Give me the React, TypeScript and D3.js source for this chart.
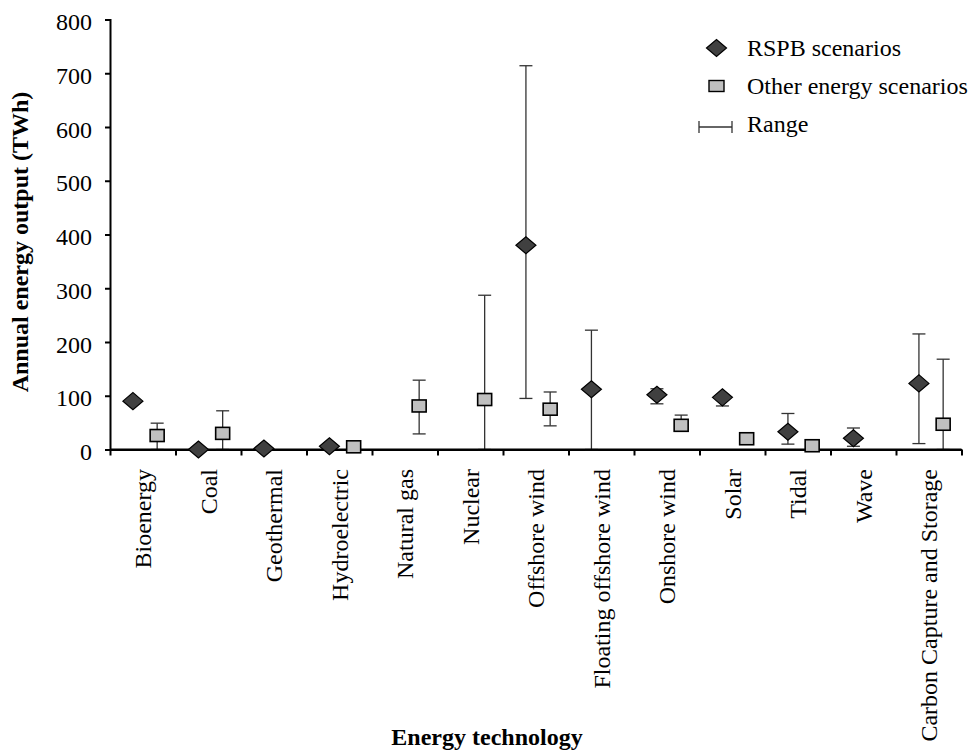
import React, { useEffect, useRef } from "react"
import * as d3 from "d3"

const categories = [
  "Bioenergy",
  "Coal",
  "Geothermal",
  "Hydroelectric",
  "Natural gas",
  "Nuclear",
  "Offshore wind",
  "Floating offshore wind",
  "Onshore wind",
  "Solar",
  "Tidal",
  "Wave",
  "Carbon Capture and Storage",
]

// RSPB scenarios (diamonds)
const rspbValues = [90, 0, 2, 6, null, null, 380, 112, 102, 97, 33, 21, 123]
const rspbLow = [null, null, null, null, null, null, 95, 0, 85, 81, 10, 6, 11]
const rspbHigh = [null, null, null, null, null, null, 714, 222, 113, 100, 67, 40, 215]

// Other energy scenarios (squares)
const otherValues = [26, 30, null, 5, 81, 93, 75, null, 45, 20, 7, null, 47]
const otherLow = [0, 0, null, null, 29, 0, 44, null, 34, null, null, null, 0]
const otherHigh = [49, 72, null, null, 129, 287, 107, null, 64, null, null, null, 168]

const yTicks = [0, 100, 200, 300, 400, 500, 600, 700, 800]

const legendItems = ["RSPB scenarios", "Other energy scenarios", "Range"]

const FONT = "Liberation Serif"
const FS = 24

function render(svgEl: SVGSVGElement) {
  const svg = d3.select(svgEl)
  svg.selectAll("*").remove()

  const left = 110
  const right = 961.5
  const top = 19.5
  const bottom = 449.5

  const x = d3.scaleBand<string>().domain(categories).range([left, right]).paddingInner(0).paddingOuter(0)
  const xIdx = d3.scaleLinear().domain([0, categories.length]).range([left, right])
  const y = d3.scaleLinear().domain([0, 800]).range([bottom, top])
  const bw = x.bandwidth()
  const dx = (c: string) => (x(c) as number) + bw * 0.35
  const sx = (c: string) => (x(c) as number) + bw * 0.72

  const g = svg.append("g").attr("font-family", FONT).style("font-family", FONT)

  // y axis
  const yAxis = g
    .append("g")
    .attr("transform", `translate(${left},0)`)
    .call(d3.axisLeft(y).tickValues(yTicks).tickSize(5).tickPadding(13).tickFormat(d3.format("d")))
  yAxis.attr("font-family", null)
  yAxis.select(".domain").attr("stroke", "#000").attr("stroke-width", 2)
  yAxis.selectAll(".tick line").attr("stroke", "#000").attr("stroke-width", 2)
  yAxis
    .selectAll(".tick text")
    .attr("font-size", FS)
    .attr("fill", "#000")
    .attr("dy", "0.42em")

  // x axis (ticks at category boundaries)
  const xAxis = g
    .append("g")
    .attr("transform", `translate(0,${bottom})`)
    .call(
      d3
        .axisBottom(xIdx)
        .tickValues(d3.range(categories.length + 1))
        .tickSize(6)
        .tickSizeOuter(0)
        .tickFormat(() => "")
    )
  xAxis.attr("font-family", null)
  xAxis.select(".domain").attr("stroke", "#000").attr("stroke-width", 2)
  xAxis.selectAll(".tick line").attr("stroke", "#000").attr("stroke-width", 2)

  // category labels
  g.selectAll(".cat")
    .data(categories)
    .join("text")
    .attr("class", "cat")
    .attr("transform", (d) => `translate(${(x(d) as number) + bw / 2 + 8.5},469) rotate(-90)`)
    .attr("text-anchor", "end")
    .attr("font-size", FS)
    .attr("fill", "#000")
    .text((d) => d)

  // error bars
  const cap = 6.5
  const drawRange = (
    cls: string,
    lows: (number | null)[],
    highs: (number | null)[],
    xpos: (c: string) => number
  ) => {
    const rows = categories
      .map((c, i) => ({ c, lo: lows[i], hi: highs[i] }))
      .filter((d) => d.lo !== null && d.hi !== null) as { c: string; lo: number; hi: number }[]
    const eg = g.append("g").attr("class", cls).attr("stroke", "#333").attr("stroke-width", 1.3)
    eg.selectAll(".v")
      .data(rows)
      .join("line")
      .attr("x1", (d) => xpos(d.c))
      .attr("x2", (d) => xpos(d.c))
      .attr("y1", (d) => y(d.lo))
      .attr("y2", (d) => y(d.hi))
    eg.selectAll(".hi")
      .data(rows)
      .join("line")
      .attr("x1", (d) => xpos(d.c) - cap)
      .attr("x2", (d) => xpos(d.c) + cap)
      .attr("y1", (d) => y(d.hi))
      .attr("y2", (d) => y(d.hi))
    eg.selectAll(".lo")
      .data(rows)
      .join("line")
      .attr("x1", (d) => xpos(d.c) - cap)
      .attr("x2", (d) => xpos(d.c) + cap)
      .attr("y1", (d) => y(d.lo))
      .attr("y2", (d) => y(d.lo))
  }
  drawRange("err-rspb", rspbLow, rspbHigh, dx)
  drawRange("err-other", otherLow, otherHigh, sx)

  // redraw x axis line over bar bottoms
  g.append("line")
    .attr("x1", left)
    .attr("x2", right)
    .attr("y1", bottom)
    .attr("y2", bottom)
    .attr("stroke", "#000")
    .attr("stroke-width", 2)

  const diamond = (cx: number, cy: number, hw: number, hh: number) =>
    `M${cx - hw},${cy}L${cx},${cy - hh}L${cx + hw},${cy}L${cx},${cy + hh}Z`

  // squares
  g.selectAll(".sq")
    .data(categories.map((c, i) => ({ c, v: otherValues[i] })).filter((d) => d.v !== null))
    .join("rect")
    .attr("class", "sq")
    .attr("x", (d) => sx(d.c) - 7)
    .attr("y", (d) => y(d.v as number) - 6)
    .attr("width", 14)
    .attr("height", 12)
    .attr("fill", "#c0c0c0")
    .attr("stroke", "#000")
    .attr("stroke-width", 1.6)

  // diamonds
  g.selectAll(".dm")
    .data(categories.map((c, i) => ({ c, v: rspbValues[i] })).filter((d) => d.v !== null))
    .join("path")
    .attr("class", "dm")
    .attr("d", (d) => diamond(dx(d.c), y(d.v as number), 10, 8.5))
    .attr("fill", "#404040")
    .attr("stroke", "#000")
    .attr("stroke-width", 1.2)

  // legend
  const lg = g.append("g")
  const ly = [48, 86, 124]
  lg.append("path").attr("d", diamond(716.5, ly[0], 10, 8.5)).attr("fill", "#404040").attr("stroke", "#000").attr("stroke-width", 1.2)
  lg.append("rect")
    .attr("x", 716.5 - 7.5)
    .attr("y", ly[1] - 5.5)
    .attr("width", 15)
    .attr("height", 11)
    .attr("fill", "#c0c0c0")
    .attr("stroke", "#000")
    .attr("stroke-width", 1.4)
  const rl = lg.append("g").attr("stroke", "#333").attr("stroke-width", 1.3)
  rl.append("line").attr("x1", 699).attr("x2", 732).attr("y1", ly[2] + 3).attr("y2", ly[2] + 3)
  rl.append("line").attr("x1", 699).attr("x2", 699).attr("y1", ly[2] - 3).attr("y2", ly[2] + 9)
  rl.append("line").attr("x1", 732).attr("x2", 732).attr("y1", ly[2] - 3).attr("y2", ly[2] + 9)
  lg.selectAll(".lt")
    .data(legendItems)
    .join("text")
    .attr("class", "lt")
    .attr("x", 747)
    .attr("y", (_d, i) => ly[i] + 7.5)
    .attr("font-size", FS)
    .attr("fill", "#000")
    .text((d) => d)

  // axis titles
  g.append("text")
    .attr("transform", `translate(28,242) rotate(-90)`)
    .attr("text-anchor", "middle")
    .attr("font-size", FS)
    .attr("font-weight", "bold")
    .attr("fill", "#000")
    .text("Annual energy output (TWh)")

  g.append("text")
    .attr("x", 487)
    .attr("y", 745)
    .attr("text-anchor", "middle")
    .attr("font-size", FS)
    .attr("font-weight", "bold")
    .attr("fill", "#000")
    .text("Energy technology")
}

export default function App() {
  const ref = useRef<SVGSVGElement>(null)
  useEffect(() => {
    if (ref.current) render(ref.current)
  }, [])
  return (
    <svg
      ref={ref}
      width={970}
      height={751}
      style={{ position: "absolute", left: 0, top: 0, background: "#fff", fontFamily: "'Liberation Serif', serif" }}
    />
  )
}
